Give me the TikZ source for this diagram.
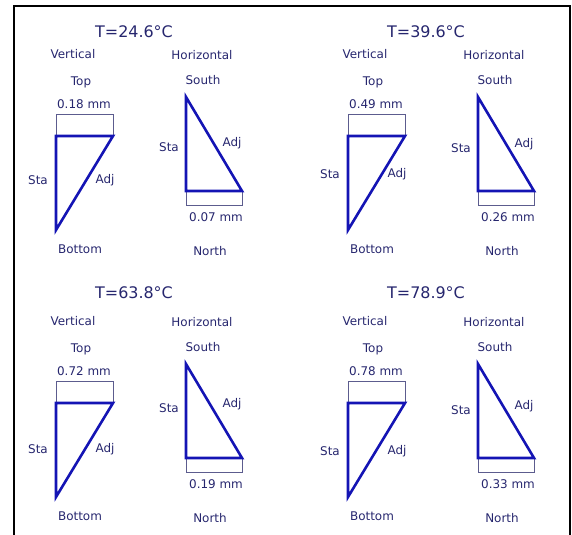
\documentclass[tikz,border=0pt]{standalone}
\usepackage{fontspec}
\setmainfont{DejaVu Sans}
\definecolor{txt}{HTML}{26266E}
\definecolor{triblue}{HTML}{1414B4}
\definecolor{boxc}{HTML}{5C5C8E}
\newcommand\drawpanel[9]{%
\begin{scope}[shift={(#2,#3)}]
\node[ttl] (#1title) at (134,#7) {#4};
\node[lbl] (#1vert) at (73,54) {Vertical};
\node[lbl] (#1horiz) at (202,55) {Horizontal};
\node[lbl] (#1top) at (81,82) {Top};
\node[lbl] (#1toplabel) at (84,104) {#5};
\draw[bx] (56,114) rectangle (113,136);
\draw[tri] (56,136) -- (113,136) -- (56,230) -- cycle;
\node[lbl] (#1vsta) at (38,#8) {Sta};
\node[lbl] (#1vadj) at (105,#8) {Adj};
\node[lbl] (#1bottom) at (80,249) {Bottom};
\node[lbl] (#1south) at (203,80) {South};
\draw[bx] (186,191) rectangle (242,205);
\draw[tri] (186,97) -- (186,191) -- (242,191) -- cycle;
\node[lbl] (#1hsta) at (169,#9) {Sta};
\node[lbl] (#1hadj) at (232,\numexpr#9-4\relax) {Adj};
\node[lbl] (#1botlabel) at (216,217) {#6};
\node[lbl] (#1north) at (210,251) {North};
\end{scope}}
\begin{document}
\begin{tikzpicture}[x=1bp,y=-1bp,
  lbl/.style={text=txt,font=\fontsize{12}{14}\selectfont,inner sep=0pt},
  ttl/.style={text=txt,font=\fontsize{16}{19}\selectfont,inner sep=0pt},
  tri/.style={draw=triblue,line width=2.6bp,line join=miter},
  bx/.style={draw=boxc,line width=0.8bp}]
\useasboundingbox (0,0) rectangle (572,535);
\draw[line width=1.6bp] (14,535) -- (14,6) -- (570,6) -- (570,535);
\drawpanel{a}{0}{0}{T=24.6°C}{0.18 mm}{0.07 mm}{32}{180}{147}
\drawpanel{b}{292}{0}{T=39.6°C}{0.49 mm}{0.26 mm}{32}{174}{148}
\drawpanel{c}{0}{267}{T=63.8°C}{0.72 mm}{0.19 mm}{26}{182}{141}
\drawpanel{d}{292}{267}{T=78.9°C}{0.78 mm}{0.33 mm}{26}{184}{143}
\end{tikzpicture}
\end{document}
